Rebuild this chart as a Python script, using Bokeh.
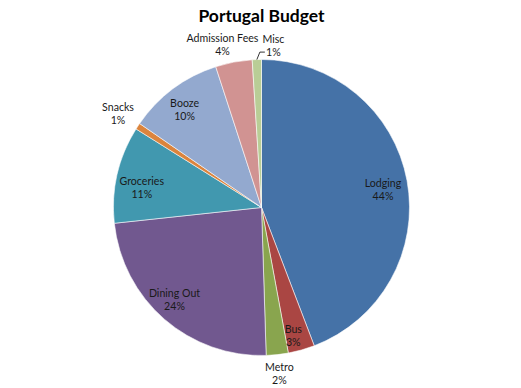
import math
from bokeh.plotting import figure
from bokeh.models import Range1d, ColumnDataSource
from bokeh.core.properties import value
from bokeh.embed import file_html
from bokeh.resources import INLINE

# ---- data ----
categories = ["Lodging", "Bus", "Metro", "Dining Out", "Groceries", "Snacks", "Booze", "Admission Fees", "Misc"]
amounts = [44.2, 2.9, 2.4, 23.8, 10.6, 0.7, 10.4, 4.0, 1.0]
colors = ["#4572A7", "#AA4643", "#89A54E", "#71588F", "#4198AF", "#DB843D", "#93A9CF", "#D19392", "#B9CD96"]
title_text = "Portugal Budget"

# ---- layout (label placement, radial factor and angular tweak in degrees) ----
label_f = [0.83, 0.89, 1.13, 0.855, 0.82, 1.16, 0.84, 1.13, 1.10]
label_dt = [2.0, 1.7, 0.0, 2.4, -3.5, 0.0, -1.5, -2.7, 6.0]

W, H = 521, 388
CX, CY, R = 261, 207, 148   # screen px

def sx(x):
    return x
def sy(y):
    return -y

p = figure(width=W, height=H, output_backend="svg", toolbar_location=None,
           x_range=Range1d(0, W), y_range=Range1d(-H, 0),
           min_border=0, min_border_left=0, min_border_right=0,
           min_border_top=0, min_border_bottom=0)
p.axis.visible = False
p.grid.visible = False
p.outline_line_color = None
p.background_fill_color = "white"
p.border_fill_color = "white"

total = sum(amounts)
fr = [a / total for a in amounts]
cum = [0.0]
for f in fr:
    cum.append(cum[-1] + f)

start = [math.pi / 2 - 2 * math.pi * c for c in cum[:-1]]
end = [math.pi / 2 - 2 * math.pi * c for c in cum[1:]]

src = ColumnDataSource(dict(start=start, end=end, color=colors))
p.wedge(x=sx(CX), y=sy(CY), radius=R, start_angle="start", end_angle="end",
        direction="clock", fill_color="color", line_color="white",
        line_width=0.8, line_alpha=0.7, source=src)

# labels
nx, ny, px_, py_ = [], [], [], []
names, pcts = [], []
for i, cat in enumerate(categories):
    mid = (cum[i] + cum[i + 1]) / 2 * 360 + label_dt[i]
    th = math.radians(mid)
    lx = CX + label_f[i] * R * math.sin(th)
    ly = CY - label_f[i] * R * math.cos(th)
    pct = f"{round(fr[i] * 100)}%"
    names.append(cat)
    pcts.append(pct)
    nx.append(sx(lx)); ny.append(sy(ly - 6.5))
    px_.append(sx(lx)); py_.append(sy(ly + 6.5))

# Misc label: leader line
mi = categories.index("Misc")
mid_m = math.radians((cum[mi] + cum[mi + 1]) / 2 * 360)
e0x = CX + R * math.sin(mid_m); e0y = CY - R * math.cos(mid_m)
elb = math.radians(359.4)
e1x = CX + 1.05 * R * math.sin(elb); e1y = CY - 1.05 * R * math.cos(elb)
e2x = e1x + 5; e2y = e1y
p.line(x=[sx(e0x), sx(e1x), sx(e2x)], y=[sy(e0y), sy(e1y), sy(e2y)],
       line_color="black", line_width=0.8)

lab = ColumnDataSource(dict(x=nx, y=ny, t=names))
p.text(x="x", y="y", text="t", source=lab, text_align="center",
       text_baseline="middle", text_font=value("Lato"),
       text_font_size="10.6px", text_color="#1a1a1a")
lab2 = ColumnDataSource(dict(x=px_, y=py_, t=pcts))
p.text(x="x", y="y", text="t", source=lab2, text_align="center",
       text_baseline="middle", text_font=value("Lato"),
       text_font_size="10.6px", text_color="#1a1a1a")

p.text(x=[sx(CX)], y=[sy(15)], text=[title_text], text_align="center",
       text_baseline="middle", text_font=value("Lato"), text_font_style="bold",
       text_font_size="17.5px", text_color="black")

open("out.html", "w").write(file_html(p, INLINE))
